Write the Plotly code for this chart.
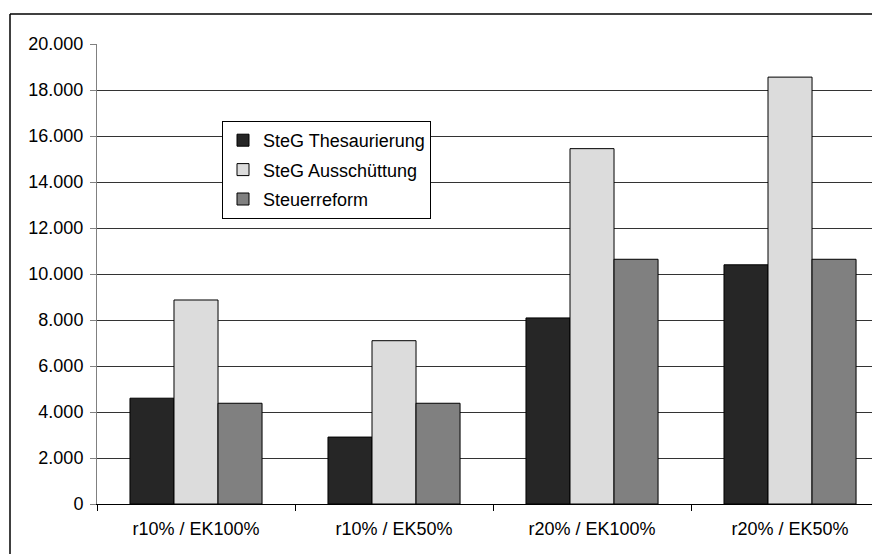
import plotly.graph_objects as go

categories = ["r10% / EK100%", "r10% / EK50%", "r20% / EK100%", "r20% / EK50%"]
thesaurierung = [4600, 2910, 8090, 10400]
ausschuettung = [8870, 7100, 15450, 18560]
steuerreform = [4380, 4380, 10640, 10640]
series_names = ["SteG Thesaurierung", "SteG Ausschüttung", "Steuerreform"]
series_colors = ["#262626", "#dcdcdc", "#808080"]
y_ticks = [0, 2000, 4000, 6000, 8000, 10000, 12000, 14000, 16000, 18000, 20000]

FONT = "Liberation Sans, Arial, sans-serif"
fig = go.Figure()
for name, vals, col in zip(series_names, [thesaurierung, ausschuettung, steuerreform], series_colors):
    fig.add_trace(go.Bar(
        x=categories, y=vals, name=name, legendgroup=name,
        marker=dict(color=col, line=dict(color="#000000", width=1)),
    ))

W, H = 872, 554
ml, mr, mt, mb = 97, 0, 44, 554 - 504
pw = W - ml - mr
ph = H - mt - mb


def px(xpage):
    return (xpage - ml) / pw


def py(ypage):
    return (H - mb - ypage) / ph


fig.update_layout(
    width=W, height=H,
    margin=dict(l=ml, r=mr, t=mt, b=mb),
    paper_bgcolor="white", plot_bgcolor="white",
    separators=",.",
    barmode="group", bargap=0.333, bargroupgap=0,
    font=dict(family=FONT, size=18, color="#000000"),
    showlegend=True,
    legend=dict(
        x=px(222), y=py(121), xanchor="left", yanchor="top",
        bgcolor="white", bordercolor="#000000", borderwidth=1,
        font=dict(family=FONT, size=18, color="#000000"),
        tracegroupgap=3, itemwidth=30,
    ),
    xaxis=dict(
        type="category", range=[-0.5, 3.414],
        showline=True, linecolor="#000000", linewidth=1,
        ticks="outside", tickson="boundaries", ticklen=6, tickcolor="#000000",
        ticklabelstandoff=8,
        showgrid=False, zeroline=False, fixedrange=True,
    ),
    yaxis=dict(
        range=[0, 20000], tickvals=y_ticks, tickformat=",d",
        showline=True, linecolor="#808080", linewidth=1,
        ticks="outside", ticklen=6, tickcolor="#808080",
        ticklabelstandoff=3,
        showgrid=True, gridcolor="#333333", gridwidth=1,
        zeroline=False, fixedrange=True,
    ),
    shapes=[
        dict(type="line", xref="paper", yref="paper",
             x0=px(10), x1=1.05, y0=py(14), y1=py(14),
             line=dict(color="#000000", width=1.5)),
        dict(type="line", xref="paper", yref="paper",
             x0=px(10), x1=px(10), y0=py(14), y1=-0.2,
             line=dict(color="#000000", width=1.5)),
    ],
)

fig.write_html(
    "out.html",
    config={"displayModeBar": False},
    post_script="document.body.style.margin='0';document.body.style.overflow='hidden';",
)
